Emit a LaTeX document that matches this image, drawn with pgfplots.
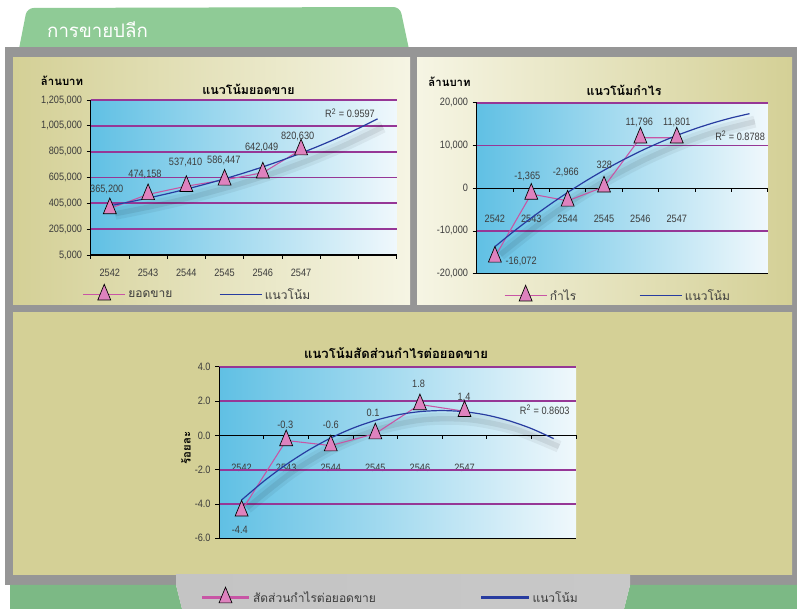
\documentclass[border=0pt]{standalone}
\usepackage{pgfplots}
\pgfplotsset{compat=1.18}
\usepackage{fontspec}
\setmainfont{Liberation Sans}
\newfontfamily\thai[Script=Thai]{Loma}
\newfontfamily\nums[FakeStretch=0.86]{Liberation Sans}
\definecolor{khaki}{RGB}{212,208,150}
\definecolor{cream}{RGB}{246,245,228}
\definecolor{skyb}{RGB}{96,192,228}
\definecolor{paleb}{RGB}{240,248,252}
\definecolor{grpurple}{RGB}{150,55,150}
\definecolor{datapink}{RGB}{200,85,165}
\definecolor{markpink}{RGB}{222,130,190}
\definecolor{trendblue}{RGB}{40,60,160}
\definecolor{tabgreen}{RGB}{143,203,150}
\definecolor{botgreen}{RGB}{124,185,133}
\definecolor{lbltext}{RGB}{60,60,60}
\definecolor{fdark}{RGB}{150,150,150}
\definecolor{flight}{RGB}{236,236,236}

\tikzset{lbl/.style={font=\nums\fontsize{8}{9}\selectfont, text=lbltext},
  gridl/.style={grpurple, line width=1.4pt},
  axl/.style={black, line width=0.8pt},
  tkl/.style={black, line width=0.6pt}}
\pgfplotsset{
  base/.style={
    scale only axis, clip=false,
    xmin=0.5, xmax=8.5,
    xtick={0.5,1.5,...,8.5},
    x tick label as interval,
    xticklabels={2542,2543,2544,2545,2546,2547,{},{}},
    xtick pos=left, ytick pos=left,
    tick align=outside,
    major tick length=3pt,
    tick style={black, line width=0.6pt},
    axis line style={draw=none},
    ticklabel style={font=\nums\fontsize{8}{9}\selectfont, text=lbltext},
    /pgf/number format/assume math mode=true,
    scaled y ticks=false,
    legend columns=2,
    legend style={draw=none, fill=none, font=\thai\fontsize{9}{10}\selectfont, text=lbltext, inner sep=0pt},
    legend image code/.code={\draw[mark repeat=2, mark phase=2, ##1] plot coordinates {(0pt,0pt) (15.75pt,0pt) (31.5pt,0pt)};},
  },
  bigleg/.style={
    legend image code/.code={\draw[mark repeat=2, mark phase=2, ##1, line width=2.2pt] plot coordinates {(0pt,0pt) (17.6pt,0pt) (35.2pt,0pt)};},
  },
  datastyle/.style={datapink, line width=0.8pt, mark=triangle*, mark size=5.6pt,
    mark options={draw=black, fill=markpink, line width=0.5pt, yscale=1.4, solid}},
  trendstyle/.style={trendblue, line width=0.9pt, smooth, no marks},
  shadowA/.style={black, opacity=0.05, line width=9pt, smooth, no marks, forget plot, xshift=4pt, yshift=-6pt},
  shadowB/.style={black, opacity=0.07, line width=4pt, smooth, no marks, forget plot, xshift=4pt, yshift=-6pt},
}

\begin{document}
\begin{tikzpicture}[x=0.75pt,y=0.75pt]
\useasboundingbox (0,0) rectangle (797,609);
\clip (0,0) rectangle (797,609);
\fill[white] (0,0) rectangle (797,609);
% green tab
\fill[tabgreen, rounded corners=5pt] (18,555) -- (27,601) -- (400,602) -- (410,555) -- cycle;
\node[text=white, font=\thai\fontsize{14}{16}\selectfont] at (97.5,579) {การขายปลีก};
% frame
\shade[left color=fdark, middle color=flight, right color=fdark] (5,24) rectangle (797,561);
% panels
\shade[left color=khaki, right color=cream] (13,304) rectangle (410,551);
\shade[left color=cream, right color=khaki] (417,304) rectangle (792,551);
\fill[fdark] (413,306) rectangle (415,549);
\shade[left color=khaki, middle color=cream, right color=khaki] (13,34) rectangle (792,296);
% bottom area
\fill[botgreen] (10,24) -- (176,24) -- (182,0) -- (10,0) -- cycle;
\fill[botgreen] (630,24) -- (797,24) -- (797,0) -- (624,0) -- cycle;
\shade[left color={rgb,255:red,196;green,196;blue,196}, middle color={rgb,255:red,248;green,248;blue,248}, right color={rgb,255:red,200;green,200;blue,200}] (176,24) -- (630,24) -- (624,0) -- (182,0) -- cycle;
\shade[left color={rgb,255:red,196;green,196;blue,196}, middle color={rgb,255:red,248;green,248;blue,248}, right color={rgb,255:red,200;green,200;blue,200}] (176,24) rectangle (630,34);
% plot-area backgrounds
\shade[left color=skyb, right color=paleb] (90.7,354) rectangle (396.7,509);
\shade[left color=skyb, right color=paleb] (476.7,335.3) rectangle (767.7,506.3);
\shade[left color=skyb, right color=paleb] (219.3,70.7) rectangle (576,242.3);

% titles and unit labels
\node[font=\thai\bfseries\fontsize{9.3}{11}\selectfont] at (248.5,520) {แนวโน้มยอดขาย};
\node[font=\thai\bfseries\fontsize{8.5}{10}\selectfont] at (62,528) {ล้านบาท};
\node[font=\thai\bfseries\fontsize{9.3}{11}\selectfont] at (624,519) {แนวโน้มกำไร};
\node[font=\thai\bfseries\fontsize{8.5}{10}\selectfont] at (449.5,527) {ล้านบาท};
\node[font=\thai\bfseries\fontsize{9.8}{12}\selectfont] at (396,256) {แนวโน้มสัดส่วนกำไรต่อยอดขาย};
\node[font=\thai\bfseries\fontsize{8.5}{10}\selectfont, rotate=90] at (186,161) {ร้อยละ};

% ---------------- left chart
\begin{axis}[base, at={(68.03pt,265.5pt)}, anchor=south west, width=229.5pt, height=116.25pt,
  ymin=5000, ymax=1205000, ytick={5000,205000,405000,605000,805000,1005000,1205000},
  yticklabel style={/pgf/number format/.cd, fixed, 1000 sep={,}},
  xticklabel style={yshift=-4pt},
  legend style={at={(0.35,-0.252)}, anchor=center, /tikz/every even column/.append style={column sep=33pt}},
]
\draw[gridl] (axis cs:0.5,205000) -- (axis cs:8.5,205000);
\draw[gridl] (axis cs:0.5,405000) -- (axis cs:8.5,405000);
\draw[gridl] (axis cs:0.5,605000) -- (axis cs:8.5,605000);
\draw[gridl] (axis cs:0.5,805000) -- (axis cs:8.5,805000);
\draw[gridl] (axis cs:0.5,1005000) -- (axis cs:8.5,1005000);
\draw[gridl] (axis cs:0.5,1205000) -- (axis cs:8.5,1205000);
\draw[axl] (axis cs:0.5,1205000) -- (axis cs:0.5,5000) -- (axis cs:8.5,5000);
\addplot[shadowA] coordinates {(1,385973) (2,445840) (3,515000) (4,594880) (5,687160) (6,793740) (7,916860) (8,1059080)};
\addplot[shadowB] coordinates {(1,385973) (2,445840) (3,515000) (4,594880) (5,687160) (6,793740) (7,916860) (8,1059080)};
\addplot[datastyle] coordinates {(1,365200) (2,474158) (3,537410) (4,586447) (5,642049) (6,820630)};
\addlegendentry{ยอดขาย}
\addplot[trendstyle] coordinates {(1,385973) (1.5,414830) (2,445840) (2.5,479170) (3,515000) (3.5,553500) (4,594880) (4.5,639360) (5,687160) (5.5,738530) (6,793740) (6.5,853080) (7,916860) (7.5,985410) (8,1059080)};
\addlegendentry{แนวโน้ม}
\node[lbl] at (axis cs:0.92,516000) {365,200};
\node[lbl] at (axis cs:1.92,629774) {474,158};
\node[lbl] at (axis cs:2.98,719581) {537,410};
\node[lbl] at (axis cs:3.98,740484) {586,447};
\node[lbl] at (axis cs:4.97,838806) {642,049};
\node[lbl] at (axis cs:5.91,926290) {820,630};
\node[lbl] at (axis cs:7.28,1102000) {R\textsuperscript{2} = 0.9597};
\end{axis}

% ---------------- right chart
\begin{axis}[base, at={(357.53pt,251.48pt)}, anchor=south west, width=218.25pt, height=128.25pt,
  ymin=-20000, ymax=20000, ytick={-20000,-10000,0,10000,20000},
  yticklabel style={/pgf/number format/.cd, fixed, 1000 sep={,}},
  major x tick style={draw=none},
  xticklabel style={yshift=50.5pt},
  legend style={at={(0.487,-0.125)}, anchor=center, /tikz/every even column/.append style={column sep=45pt}},
]
\draw[gridl] (axis cs:0.5,-10000) -- (axis cs:8.5,-10000);
\draw[gridl] (axis cs:0.5,10000) -- (axis cs:8.5,10000);
\draw[gridl] (axis cs:0.5,20000) -- (axis cs:8.5,20000);
\draw[axl] (axis cs:0.5,-20000) -- (axis cs:8.5,-20000);
\draw[axl] (axis cs:0.5,20000) -- (axis cs:0.5,-20000);
\draw[axl] (axis cs:0.5,0) -- (axis cs:8.5,0);
\pgfplotsinvokeforeach{0.5,1.5,2.5,3.5,4.5,5.5,6.5,7.5,8.5}{\draw[tkl] (axis cs:#1,0) -- ++(0pt,-3pt);}
\addplot[shadowA] coordinates {(1,-13687) (2,-6966) (3,-1004) (4,4200) (5,8646) (6,12333) (7,15262) (8,17432)};
\addplot[shadowB] coordinates {(1,-13687) (2,-6966) (3,-1004) (4,4200) (5,8646) (6,12333) (7,15262) (8,17432)};
\addplot[datastyle] coordinates {(1,-16072) (2,-1365) (3,-2966) (4,328) (5,11796) (6,11801)};
\addlegendentry{กำไร}
\addplot[trendstyle] coordinates {(1,-13687) (1.5,-10232) (2,-6966) (2.5,-3890) (3,-1004) (3.5,1693) (4,4200) (4.5,6518) (5,8646) (5.5,10584) (6,12333) (6.5,13892) (7,15262) (7.5,16442) (8,17432)};
\addlegendentry{แนวโน้ม}
\node[lbl] at (axis cs:1.72,-17193) {-16,072};
\node[lbl] at (axis cs:1.89,2690) {-1,365};
\node[lbl] at (axis cs:2.95,3719) {-2,966};
\node[lbl] at (axis cs:4.01,5357) {328};
\node[lbl] at (axis cs:4.97,15485) {11,796};
\node[lbl] at (axis cs:6.0,15485) {11,801};
\node[lbl] at (axis cs:7.74,12211) {R\textsuperscript{2} = 0.8788};
\end{axis}

% ---------------- bottom chart
\begin{axis}[base, bigleg, at={(164.48pt,53.03pt)}, anchor=south west, width=267.5pt, height=128.7pt,
  ymin=-6, ymax=4, ytick={-6,-4,-2,0,2,4},
  yticklabel style={/pgf/number format/.cd, fixed, fixed zerofill, precision=1},
  major x tick style={draw=none},
  xticklabel style={yshift=62.5pt},
  legend style={at={(0.48,-0.342)}, anchor=center, /tikz/every even column/.append style={column sep=76pt}},
]
\draw[gridl] (axis cs:0.5,-4) -- (axis cs:8.5,-4);
\draw[gridl] (axis cs:0.5,-2) -- (axis cs:8.5,-2);
\draw[gridl] (axis cs:0.5,2) -- (axis cs:8.5,2);
\draw[gridl] (axis cs:0.5,4) -- (axis cs:8.5,4);
\draw[axl] (axis cs:0.5,-6) -- (axis cs:8.5,-6);
\draw[axl] (axis cs:0.5,4) -- (axis cs:0.5,-6);
\draw[axl] (axis cs:0.5,0) -- (axis cs:8.5,0);
\pgfplotsinvokeforeach{0.5,1.5,2.5,3.5,4.5,5.5,6.5,7.5,8.5}{\draw[tkl] (axis cs:#1,0) -- ++(0pt,-3pt);}
\addplot[shadowA] coordinates {(1,-3.768) (2,-1.704) (3,-0.157) (4,0.871) (5,1.382) (6,1.375) (7,0.850) (8,-0.192)};
\addplot[shadowB] coordinates {(1,-3.768) (2,-1.704) (3,-0.157) (4,0.871) (5,1.382) (6,1.375) (7,0.850) (8,-0.192)};
\addplot[datastyle] coordinates {(1,-4.4) (2,-0.3) (3,-0.6) (4,0.1) (5,1.8) (6,1.4)};
\addlegendentry{สัดส่วนกำไรต่อยอดขาย}
\addplot[trendstyle] coordinates {(1,-3.768) (1.5,-2.671) (2,-1.704) (2.5,-0.866) (3,-0.157) (3.5,0.422) (4,0.871) (4.5,1.192) (5,1.382) (5.5,1.443) (6,1.375) (6.5,1.178) (7,0.850) (7.5,0.394) (8,-0.192)};
\addlegendentry{แนวโน้ม}
\node[lbl] at (axis cs:0.96,-5.48) {-4.4};
\node[lbl] at (axis cs:1.98,0.60) {-0.3};
\node[lbl] at (axis cs:3.0,0.60) {-0.6};
\node[lbl] at (axis cs:3.95,1.32) {0.1};
\node[lbl] at (axis cs:4.97,3.03) {1.8};
\node[lbl] at (axis cs:5.99,2.22) {1.4};
\node[lbl] at (axis cs:7.8,1.48) {R\textsuperscript{2} = 0.8603};
\end{axis}
\end{tikzpicture}
\end{document}
